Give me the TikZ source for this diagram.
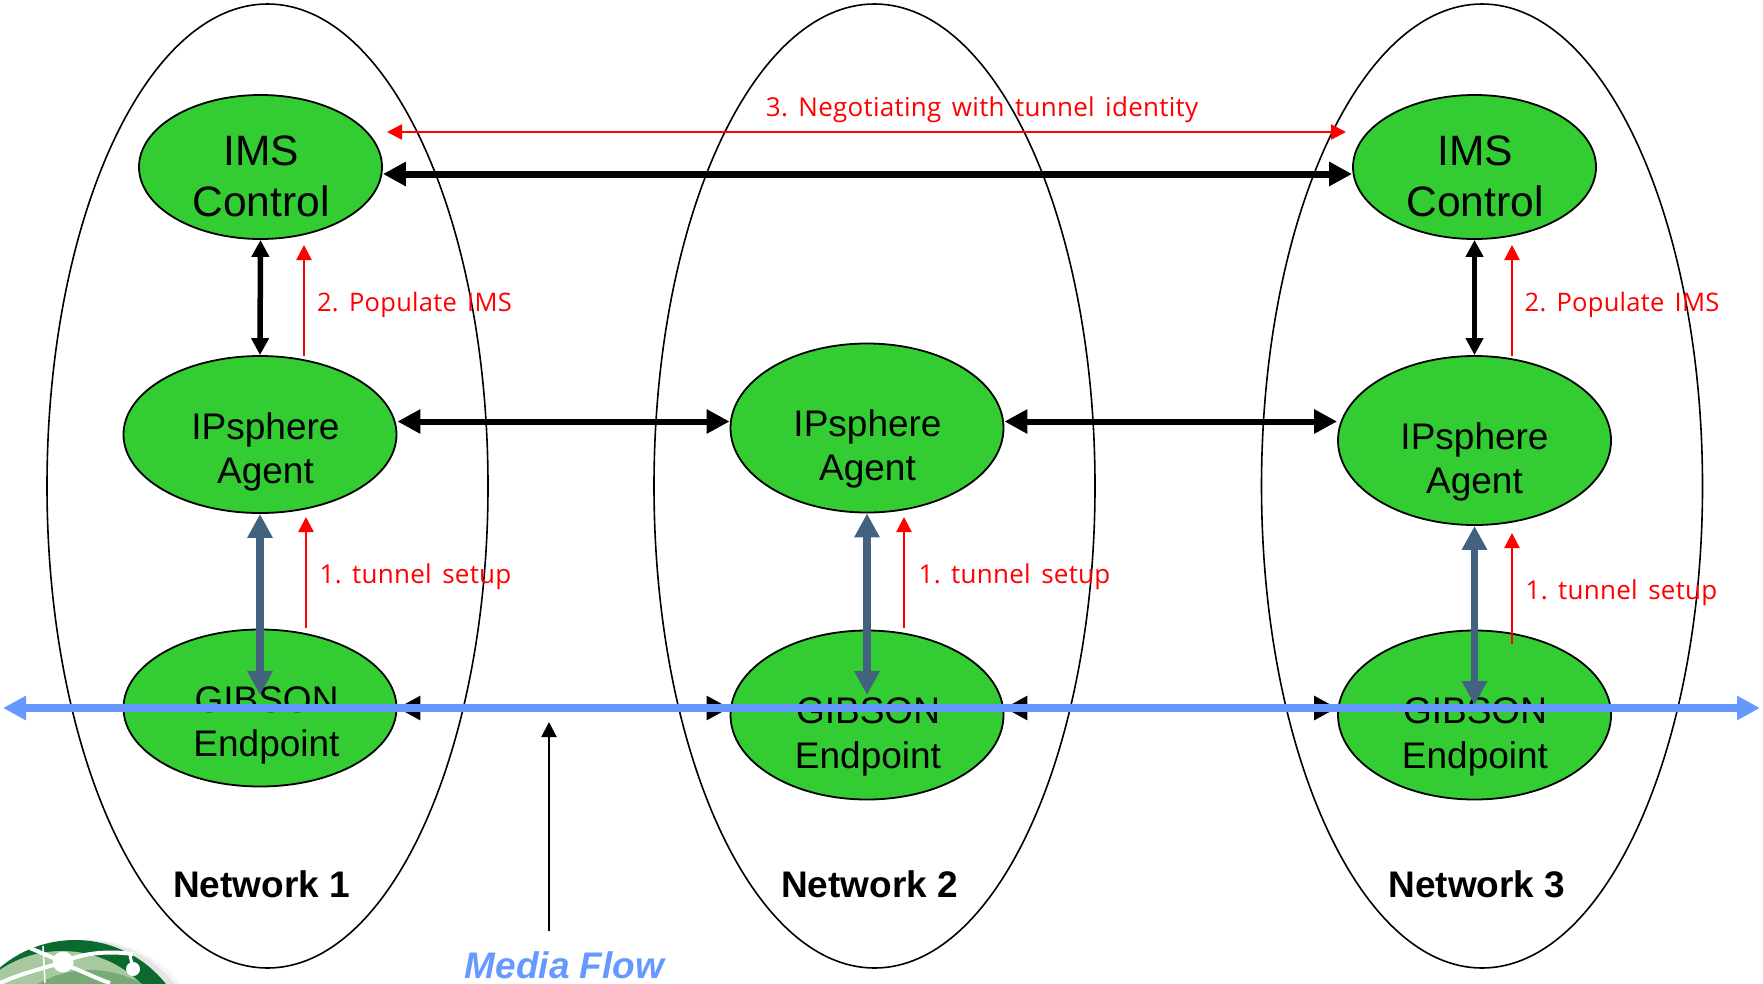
\documentclass[tikz,border=0pt]{standalone}
\usepackage{fontspec}
\setmainfont{Liberation Sans}
\newfontfamily\notefont[LetterSpace=1,WordSpace=1.5]{Open Sans}
\usetikzlibrary{arrows.meta,shapes.geometric}
\definecolor{nodegreen}{HTML}{33CC33}
\definecolor{slateline}{HTML}{436280}
\definecolor{mediablue}{HTML}{6699FF}
\definecolor{rimgreen}{HTML}{0B6B2E}
\tikzset{
  netring/.style={draw=black,line width=1.6pt,ellipse,minimum width=441pt,minimum height=964pt,inner sep=0pt},
  agent/.style={draw=black,line width=1.8pt,fill=nodegreen,ellipse,inner sep=0pt},
  imsshape/.style={agent,minimum width=243pt,minimum height=144pt},
  shortshape/.style={agent,minimum width=273pt,minimum height=157pt},
  tallshape/.style={agent,minimum width=273pt,minimum height=169pt},
  bigtxt/.style={align=center,inner sep=0pt,font=\fontsize{42.5}{51}\selectfont},
  midtxt/.style={align=center,inner sep=0pt,font=\fontsize{37}{44.5}\selectfont},
  nettxt/.style={inner sep=0pt,font=\fontsize{37}{43}\selectfont\bfseries},
  notetxt/.style={inner sep=0pt,text=red,font=\fontsize{26}{30}\notefont},
  popnote/.style={notetxt,font=\fontsize{25.5}{30}\notefont},
  heavy/.style={line width=7pt,draw=black,{Triangle[length=23pt,width=23pt]}-{Triangle[length=23pt,width=23pt]}},
  medium/.style={line width=6pt,draw=black,{Triangle[length=23pt,width=23pt]}-{Triangle[length=23pt,width=23pt]}},
  updown/.style={line width=5.5pt,draw=black,{Triangle[length=17pt,width=17pt]}-{Triangle[length=17pt,width=17pt]}},
  slate/.style={line width=7.6pt,draw=slateline,{Triangle[length=24pt,width=24pt]}-{Triangle[length=24pt,width=24pt]}},
  media/.style={line width=8.3pt,draw=mediablue,{Triangle[length=23pt,width=23pt]}-{Triangle[length=23pt,width=23pt]}},
  redone/.style={line width=2.4pt,draw=red,-{Triangle[length=15pt,width=15pt]}},
  redtwo/.style={line width=2.4pt,draw=red,{Triangle[length=15pt,width=15pt]}-{Triangle[length=15pt,width=15pt]}},
  thin/.style={line width=2pt,draw=black,-{Triangle[length=15pt,width=15pt]}}
}
\begin{document}
\begin{tikzpicture}[x=1pt,y=-1pt]
\useasboundingbox (0,0) rectangle (1763,983);
\clip (0,0) rectangle (1763,983);
% globe
\fill[black!4] (88,1060) circle (120);
\fill[black!10] (83,1058) circle (118);
\fill[rimgreen] (75,1056) circle (116);
\fill[color={rgb,255:red,168;green,200;blue,160}] (62,1063) circle (112);
\fill[color={rgb,255:red,120;green,170;blue,120}] (90,1075) circle (105);
\draw[white,line width=4pt] (0,983) .. controls (25,972) and (45,968) .. (63,962);
\draw[white,line width=4pt] (30,948) -- (63,962);
\draw[white,line width=4pt] (63,962) .. controls (85,952) and (110,951) .. (133,954);
\draw[white,line width=4pt] (66,965) .. controls (80,970) and (95,978) .. (110,983);
\draw[white,line width=1.5pt] (43,946) -- (45,983);
\draw[white,line width=3pt] (130,955) -- (133,969);
\fill[white] (63,962) circle (10.5);
\fill[white] (133,969) circle (7);
% network rings
\node[netring] (net1) at (267.5,486) {};
\node[netring] (net2) at (874.5,486) {};
\node[netring] (net3) at (1482,486) {};
% black layer under media
\node[imsshape] (ims1) at (260.5,167) {};
\node[imsshape] (ims3) at (1474.5,167) {};
\node[shortshape] (ip1) at (260,434.5) {};
\node[tallshape] (ip2) at (867,428) {};
\node[tallshape] (ip3) at (1474.5,440.5) {};
\node[shortshape] (gib1) at (260,708) {};
\node[tallshape] (gib2) at (867,715) {};
\node[tallshape] (gib3) at (1474.5,715) {};
\node[bigtxt] (ims1txt) at (261,176) {IMS\\Control};
\node[bigtxt] (ims3txt) at (1475,176) {IMS\\Control};
\node[midtxt] (ip1txt) at (265.5,452) {IPsphere\\Agent};
\node[midtxt] (ip2txt) at (867.5,449) {IPsphere\\Agent};
\node[midtxt] (ip3txt) at (1474.5,462) {IPsphere\\Agent};
\node[midtxt] (gib1txt) at (266.5,725.5) {GIBSON\\Endpoint};
\node[midtxt] (gib2txt) at (868,737) {GIBSON\\Endpoint};
\node[midtxt] (gib3txt) at (1475,737) {GIBSON\\Endpoint};
% control and agent links
\draw[heavy] ([yshift=-7pt]ims1.east) -- ([yshift=-7pt]ims3.west);
\draw[updown] (ims1.south) -- (ip1.north);
\draw[updown] (ims3.south) -- (ip3.north);
\draw[medium] ([yshift=13pt]ip1.east) -- ([yshift=6.5pt]ip2.west);
\draw[medium] ([yshift=6.5pt]ip2.east) -- ([yshift=19pt]ip3.west);
% media links behind the media line
\draw[medium] (gib1.east) -- ([yshift=7pt]gib2.west);
\draw[medium] ([yshift=7pt]gib2.east) -- ([yshift=7pt]gib3.west);
% tunnel links
\coordinate (gib1t) at (260,695);
\coordinate (gib2t) at (867,695);
\coordinate (gib3t) at (1474.5,705);
\draw[slate] (ip1.south) -- (gib1t);
\draw[slate] (ip2.south) -- (gib2t);
\draw[slate] (ip3.south) -- (gib3t);
% media line
\coordinate (medL) at (3,708);
\coordinate (medR) at (1760,708);
\draw[media] (medL) -- (medR);
% red signalling
\coordinate (negL) at (387,132);
\coordinate (negR) at (1346,132);
\draw[redtwo] (negL) -- (negR);
\coordinate (popA) at (304,356);
\coordinate (popB) at (304,245);
\coordinate (popC) at (1512,356);
\coordinate (popD) at (1512,245);
\draw[redone] (popA) -- (popB);
\draw[redone] (popC) -- (popD);
\coordinate (tunA) at (306,628);
\coordinate (tunB) at (306,517);
\coordinate (tunC) at (904,628);
\coordinate (tunD) at (904,517);
\coordinate (tunE) at (1512,644);
\coordinate (tunF) at (1512,533);
\draw[redone] (tunA) -- (tunB);
\draw[redone] (tunC) -- (tunD);
\draw[redone] (tunE) -- (tunF);
\node[notetxt] (neg) at (982,110) {3.\ Negotiating with tunnel identity};
\node[popnote] (pop1) at (414.5,304.5) {2.\ Populate IMS};
\node[popnote] (pop3) at (1622,304.5) {2.\ Populate IMS};
\node[notetxt] (tun1) at (415.5,577) {1.\ tunnel setup};
\node[notetxt] (tun2) at (1014.5,577) {1.\ tunnel setup};
\node[notetxt] (tun3) at (1621.5,593) {1.\ tunnel setup};
% bottom labels
\node[nettxt] (n1) at (261.5,884) {Network 1};
\node[nettxt] (n2) at (869.5,884) {Network 2};
\node[nettxt] (n3) at (1477,884) {Network 3};
\node[inner sep=0pt,text=mediablue,font=\fontsize{37}{44}\selectfont\bfseries\itshape] (mf) at (564.5,965.5) {Media Flow};
\coordinate (mfT) at (549,931);
\coordinate (mfH) at (549,722);
\draw[thin] (mfT) -- (mfH);
\end{tikzpicture}
\end{document}
